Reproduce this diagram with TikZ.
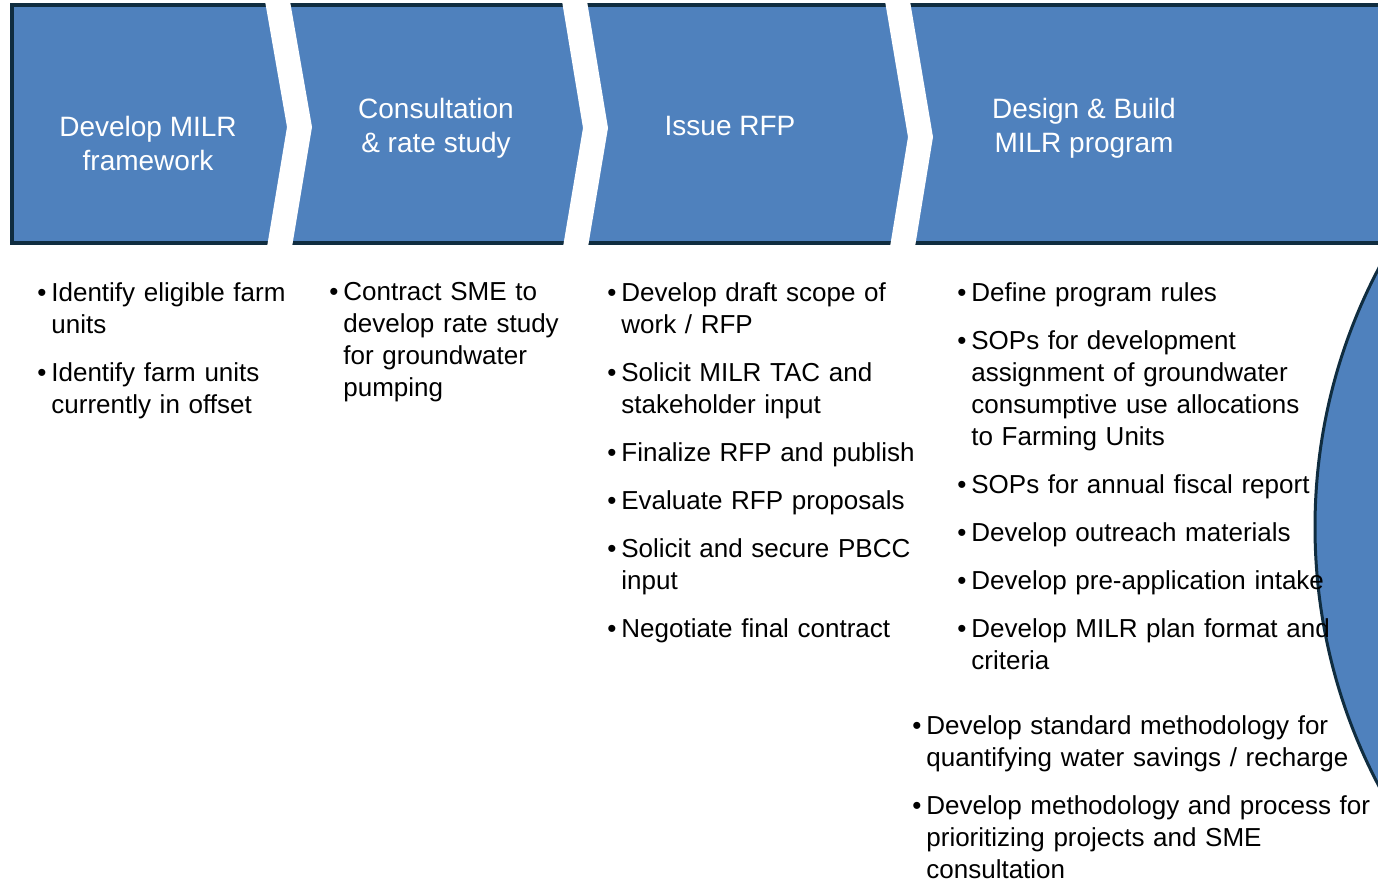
\documentclass[tikz,border=0pt]{standalone}
\usepackage{fontspec}
\setmainfont{Liberation Sans}
\definecolor{chevblue}{RGB}{79,129,189}
\definecolor{chevline}{RGB}{16,45,64}
\newcommand{\itm}[1]{\hangindent=7pt\hangafter=1\noindent\makebox[7pt][l]{\textbullet}#1\par}
\begin{document}
\begin{tikzpicture}[x=0.5pt,y=-0.5pt,line join=miter,
	head/.style={text=white,align=center,inner sep=0pt,font=\fontsize{14}{17}\selectfont},
	list/.style={anchor=north west,inner sep=0pt,text width=240pt,align=left,font=\fontsize{13}{16}\selectfont\setlength{\parskip}{8pt}}]
	\useasboundingbox (0,0) rectangle (1378,882);
	\clip (0,0) rectangle (1378,882);
	% chevron band
	\fill[chevblue] (12,5) rectangle (1380,243);
	\draw[chevline,line width=2pt] (1380,5)--(12,5)--(12,243)--(1380,243);
	\foreach \a/\t/\b/\ty in {265/287/267/127,562/583/563/128,885/908/890/137}
		\fill[white] (\a,1)--(\a+25,1)--(\t+25,\ty)--(\b+25,247)--(\b,247)--(\t,\ty)--cycle;
	\node[head] (hd1) at (148,143) {Develop MILR\\framework};
	\node[head] (hd2) at (436,128) {Consultation\\\& rate study};
	\node[head] (hd3) at (730,126) {Issue RFP};
	\node[head] (hd4) at (1084,128) {Design \& Build\\MILR program};
	% circle at the right edge
	\draw[chevline,fill=chevblue,line width=1.5pt] (1871,527) ellipse [x radius=556,y radius=556];
	% lists
	\node[list] (ls1) at (37,282) {\itm{Identify eligible farm\newline units}\itm{Identify farm units\newline currently in offset}};
	\node[list] (ls2) at (329,282) {\itm{Contract SME to\newline develop rate study\newline for groundwater\newline pumping}};
	\node[list] (ls3) at (607,282) {\itm{Develop draft scope of\newline work / RFP}\itm{Solicit MILR TAC and\newline stakeholder input}\itm{Finalize RFP and publish}\itm{Evaluate RFP proposals}\itm{Solicit and secure PBCC\newline input}\itm{Negotiate final contract}};
	\node[list] (ls4) at (957,282) {\itm{Define program rules}\itm{SOPs for development\newline assignment of groundwater\newline consumptive use allocations\newline to Farming Units}\itm{SOPs for annual fiscal report}\itm{Develop outreach materials}\itm{Develop pre-application intake}\itm{Develop MILR plan format and\newline criteria}};
	\node[list] (ls5) at (912,715) {\itm{Develop standard methodology for\newline quantifying water savings / recharge}\itm{Develop methodology and process for\newline prioritizing projects and SME\newline consultation}};
\end{tikzpicture}
\end{document}
